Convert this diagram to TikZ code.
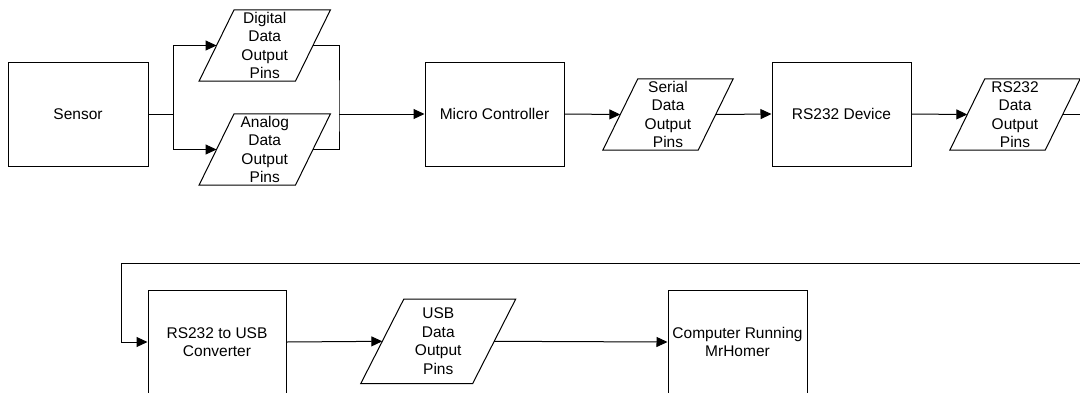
\documentclass[tikz,border=0pt]{standalone}
\usepackage{fontspec}
\setmainfont{Liberation Sans}
\usetikzlibrary{arrows.meta,calc}
\begin{document}
\begin{tikzpicture}[x=1pt,y=-1pt,
  every node/.style={font=\fontsize{15.5}{18.5}\selectfont, align=center, inner sep=0pt},
  blockbox/.style={draw, line width=1pt, minimum width=139pt, minimum height=104pt},
  parashape/.style={minimum width=96pt, minimum height=71pt},
  usbshape/.style={minimum width=111.5pt, minimum height=84pt},
  conn/.style={line width=1pt},
  arr/.style={conn, -{Triangle[length=11pt,width=10pt]}}
]
\useasboundingbox (0,0) rectangle (1080,392);
\clip (0,0) rectangle (1080,392);
% blocks
\node[blockbox, minimum width=140pt] (sensor) at (78,114) {Sensor};
\node[blockbox] (mc) at (494.5,114) {Micro Controller};
\node[blockbox] (rsd) at (841.5,114) {RS232 Device};
\node[blockbox, minimum width=138pt] (conv) at (217,342) {RS232 to USB\\Converter};
\node[blockbox] (comp) at (737.5,342) {Computer Running\\MrHomer};
% parallelogram nodes
\node[parashape] (dig) at (264.75,45.5) {};
\node[parashape] (ana) at (264.75,149.5) {};
\node[parashape, minimum width=95pt] (ser) at (668,114.5) {};
\node[parashape, minimum width=95pt] (rsp) at (1015,114.5) {};
\node[usbshape] (usb) at (438.25,341.3) {};
\foreach \n in {dig,ana,ser,rsp}
  \draw[conn] ([xshift=-17.5pt]\n.south west) -- ([xshift=-17.5pt]\n.south east)
    -- ([xshift=17.5pt]\n.north east) -- ([xshift=17.5pt]\n.north west) -- cycle;
\draw[conn] ([xshift=-21.5pt]usb.south west) -- ([xshift=-21.5pt]usb.south east)
    -- ([xshift=21.5pt]usb.north east) -- ([xshift=21.5pt]usb.north west) -- cycle;
% texts
\node (digt) at (dig) {Digital\\Data\\Output\\Pins};
\node (anat) at (ana) {Analog\\Data\\Output\\Pins};
\node (sert) at (ser) {Serial\\Data\\Output\\Pins};
\node (rspt) at (rsp) {RS232\\Data\\Output\\Pins};
\node (usbt) at (usb) {USB\\Data\\Output\\Pins};
% coordinates
\coordinate (jl) at (173,114);
\coordinate (jr) at (339,114);
\coordinate (loopR) at (1090,263);
\coordinate (loopL) at (121,263);
% connectors
\draw[conn] (sensor.east) -- (jl);
\draw[arr] (jl) |- (dig.west);
\draw[arr] (jl) |- (ana.west);
\draw[conn] (dig.east) -| (jr) |- (ana.east);
\draw[arr] (jr) -- (mc.west);
\draw[arr] (mc.east) -- (ser.west);
\draw[arr] (ser.east) -- (rsd.west);
\draw[arr] (rsd.east) -- (rsp.west);
\draw[arr] (rsp.east) -| (loopR) -- (loopL) |- (conv.west);
\draw[arr] (conv.east) -- (usb.west);
\draw[arr] (usb.east) -- (comp.west);
\end{tikzpicture}
\end{document}
